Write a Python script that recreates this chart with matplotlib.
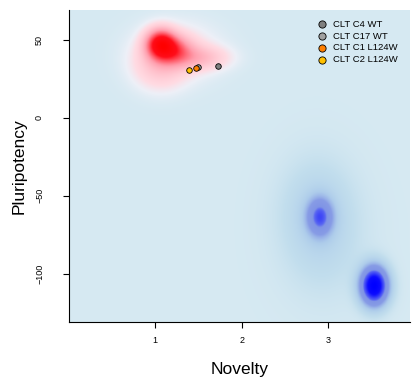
import matplotlib.pyplot as plt
import numpy as np

plt.rcParams["font.family"] = ["Liberation Sans", "DejaVu Sans"]

# density components: centre x, centre y, spread x, spread y, weight
red_x = [1.06, 1.20, 1.50, 1.05, 1.25]
red_y = [47.0, 43.0, 38.0, 33.0, 42.0]
red_sx = [0.11, 0.15, 0.22, 0.20, 0.32]
red_sy = [6.0, 6.0, 5.0, 10.0, 12.0]
red_w = [1.0, 0.55, 0.25, 0.2, 0.12]

blue_x = [2.91, 2.87, 2.95, 3.54]
blue_y = [-64.0, -58.0, -80.0, -108.0]
blue_sx = [0.10, 0.28, 0.32, 0.11]
blue_sy = [8.0, 22.0, 25.0, 8.5]
blue_w = [0.5, 0.10, 0.07, 1.0]

# cell lines
cells = ["CLT C4 WT", "CLT C17 WT", "CLT C1 L124W", "CLT C2 L124W"]
cell_x = [1.73, 1.50, 1.47, 1.39]
cell_y = [33.0, 32.3, 31.9, 30.6]
cell_col = ["#7f7f7f", "#a0a0a0", "#ff7f00", "#ffc000"]

xlim = (0.0, 3.95)
ylim = (-131, 69)

def density(xs, ys, sxs, sys_, ws, gx, gy):
    d = np.zeros_like(gx)
    for x0, y0, sx, sy, w in zip(xs, ys, sxs, sys_, ws):
        d += w * np.exp(-0.5 * (((gx - x0) / sx) ** 2 + ((gy - y0) / sy) ** 2))
    return d

gx, gy = np.meshgrid(np.linspace(xlim[0], xlim[1], 400), np.linspace(ylim[0], ylim[1], 400))
dr = density(red_x, red_y, red_sx, red_sy, red_w, gx, gy)
db = density(blue_x, blue_y, blue_sx, blue_sy, blue_w, gx, gy)
dr = np.clip(dr / dr.max(), 0, 1)
db = np.clip(db / db.max(), 0, 1)

bg = np.array([0.84, 0.915, 0.95])

def ramp(t, stops, cols):
    out = np.zeros(t.shape + (3,))
    for c in range(3):
        out[..., c] = np.interp(t, stops, [col[c] for col in cols])
    return out

img_r = ramp(dr, [0, 0.03, 0.07, 0.3, 0.65, 1.0],
             [bg, (0.93, 0.94, 0.97), (1.0, 0.86, 0.89), (1.0, 0.62, 0.68), (1.0, 0.05, 0.1), (1.0, 0.0, 0.0)])
img_b = ramp(db, [0, 0.06, 0.18, 0.26, 0.32, 0.5, 0.56, 0.8, 1.0],
             [bg, (0.76, 0.87, 0.93), (0.68, 0.8, 0.92), (0.6, 0.7, 0.91), (0.53, 0.61, 0.9), (0.5, 0.58, 0.9),
              (0.35, 0.4, 0.95), (0.05, 0.05, 1.0), (0.0, 0.0, 1.0)])
mix = np.where((dr > db)[..., None], img_r, img_b)

fig = plt.figure(figsize=(4.12, 3.83), dpi=100)
ax = fig.add_axes([0.1675, 0.159, 0.8275, 0.815])
ax.imshow(mix, extent=[xlim[0], xlim[1], ylim[0], ylim[1]], origin="lower", aspect="auto", interpolation="bilinear")
for name, x, y, c in zip(cells, cell_x, cell_y, cell_col):
    ax.scatter(x, y, s=16, color=c, edgecolor="black", linewidth=0.6, zorder=3, label=name)
ax.set_xlim(*xlim)
ax.set_ylim(*ylim)

ax.spines["top"].set_visible(False)
ax.spines["right"].set_visible(False)
ax.spines["left"].set_linewidth(0.8)
ax.spines["bottom"].set_linewidth(0.8)
ax.set_xticks([1, 2, 3])
ax.set_yticks([50, 0, -50, -100])
ax.tick_params(labelsize=6.5, length=4, width=0.8)
ax.tick_params(axis="x", pad=6)
ax.tick_params(axis="y", pad=14)
for lab in ax.get_yticklabels():
    lab.set_rotation(90)
    lab.set_va("center")
ax.set_xlabel("Novelty", fontsize=12.5, labelpad=12)
ax.set_ylabel("Pluripotency", fontsize=12.5, labelpad=6)

leg = ax.legend(loc="upper right", bbox_to_anchor=(0.985, 0.99), frameon=False, fontsize=6.8,
                handletextpad=0.6, labelspacing=0.3, handlelength=1.2, borderaxespad=0.3, markerscale=1.3)

fig.savefig("out.png", dpi=100)
